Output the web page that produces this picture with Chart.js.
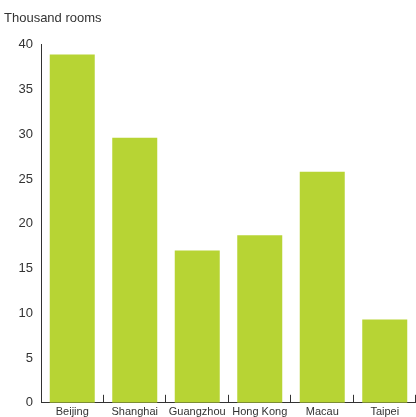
<!DOCTYPE html>
<html>
<head>
<meta charset="utf-8">
<script src="https://cdn.jsdelivr.net/npm/chart.js@4/dist/chart.umd.min.js"></script>
<style>
  html, body { margin: 0; padding: 0; background: #fff; overflow: hidden; }
  #wrap { width: 416px; height: 422px; position: relative; }
</style>
</head>
<body>
<div id="wrap"><canvas id="chart"></canvas></div>
<script>
// data
const cities = ['Beijing', 'Shanghai', 'Guangzhou', 'Hong Kong', 'Macau', 'Taipei'];
const rooms = [38.9, 29.6, 17.0, 18.7, 25.8, 9.3];
const yTicks = [0, 5, 10, 15, 20, 25, 30, 35, 40];

const barColor = '#b7d434';
const inkColor = '#333333';

// short upward tick marks between the categories on the x axis
const innerTicks = {
  id: 'innerTicks',
  afterDatasetsDraw(chart) {
    const x = chart.scales.x;
    const ctx = chart.ctx;
    const half = (x.getPixelForValue(1) - x.getPixelForValue(0)) / 2;
    const base = chart.chartArea.bottom;
    ctx.save();
    ctx.strokeStyle = inkColor;
    ctx.lineWidth = 1;
    ctx.beginPath();
    cities.forEach((c, i) => {
      const px = Math.round(x.getPixelForValue(i) + half) - 0.5;
      ctx.moveTo(px, base);
      ctx.lineTo(px, base - 8);
    });
    ctx.stroke();
    ctx.restore();
  }
};

new Chart(document.getElementById('chart'), {
  type: 'bar',
  data: {
    labels: cities,
    datasets: [{
      data: rooms,
      backgroundColor: barColor,
      borderWidth: 0,
      barPercentage: 0.72,
      categoryPercentage: 1
    }]
  },
  options: {
    responsive: true,
    maintainAspectRatio: false,
    animation: false,
    layout: { padding: { left: 4, top: 11, right: 0, bottom: 0 } },
    plugins: {
      legend: { display: false },
      tooltip: { enabled: false },
      title: {
        display: true,
        text: 'Thousand rooms',
        align: 'start',
        color: inkColor,
        font: { family: 'Liberation Sans', size: 13, weight: 'normal' },
        padding: { top: 0, bottom: 18 }
      }
    },
    scales: {
      x: {
        grid: { display: false, drawTicks: false },
        border: { display: true, color: inkColor, width: 1 },
        ticks: {
          color: inkColor,
          padding: 3,
          maxRotation: 0,
          autoSkip: false,
          font: { family: 'Liberation Sans', size: 11 }
        }
      },
      y: {
        min: 0,
        max: 40,
        afterBuildTicks: (axis) => { axis.ticks = yTicks.map(v => ({ value: v })); },
        afterFit: (axis) => { axis.width = 37; },
        grid: { display: false, drawTicks: false },
        border: { display: true, color: inkColor, width: 1 },
        ticks: {
          color: inkColor,
          padding: 8,
          font: { family: 'Liberation Sans', size: 13 }
        }
      }
    }
  },
  plugins: [innerTicks]
});
</script>
</body>
</html>
